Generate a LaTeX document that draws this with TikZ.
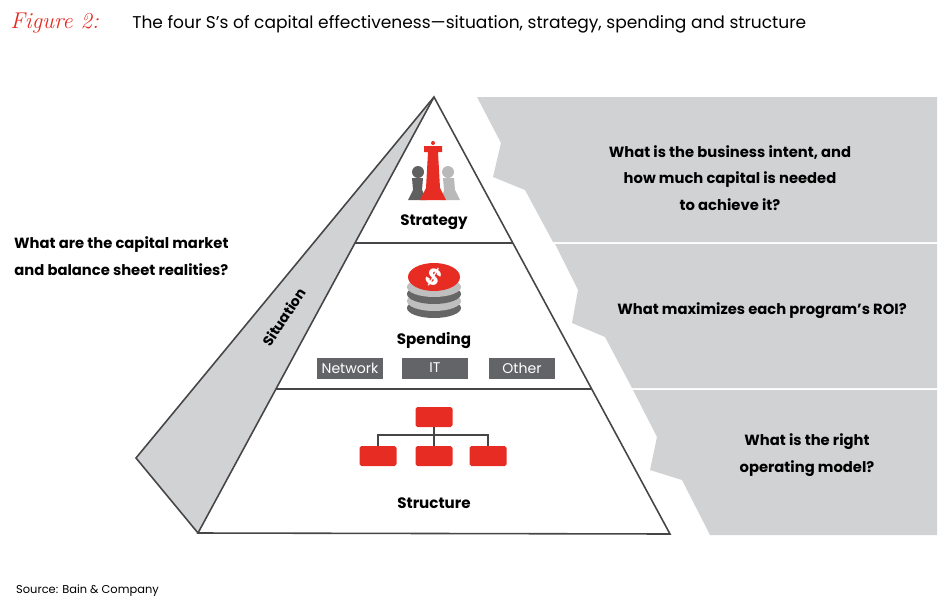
\documentclass[tikz,border=0pt]{standalone}
\usepackage{fontspec}
\setmainfont{Poppins}
\newfontfamily\figfont{Latin Modern Roman}
\usepackage{xcolor}
\usetikzlibrary{positioning}
\definecolor{bainred}{RGB}{230,44,35}
\definecolor{bandgray}{RGB}{209,210,212}
\definecolor{tabgray}{RGB}{99,100,103}
\definecolor{edgegray}{RGB}{70,70,72}
\tikzset{
    question/.style={align=center, font=\bfseries\fontsize{8.4}{15}\selectfont},
    layer/.style={font=\bfseries\fontsize{8.6}{10}\selectfont},
    tab/.style={rectangle, fill=tabgray, text=white, minimum width=1.32cm, minimum height=0.42cm, inner sep=0pt, font=\fontsize{8}{9}\selectfont},
    orgbox/.style={rectangle, rounded corners=1pt, fill=bainred, minimum width=0.74cm, minimum height=0.4cm, inner sep=0pt},
    band/.style={fill=bandgray}
}
\begin{document}
\begin{tikzpicture}[x=0.02cm, y=-0.02cm,
        % pyramid outline
        edge/.style={draw=edgegray, line width=0.9pt},
        wire/.style={draw=edgegray, line width=0.6pt}
    ]
    \useasboundingbox (0,0) rectangle (950,602);

    % --- title ---
    \node[anchor=base west, text=bainred, font=\figfont\itshape\fontsize{13}{14}\selectfont, inner sep=0pt] (fig) at (10,28) {Figure 2:};
    \node[anchor=base west, font=\fontsize{9.7}{11}\selectfont, inner sep=0pt] (title) at (132,28) {The four S’s of capital effectiveness—situation, strategy, spending and structure};

    % --- right bands ---
    \fill[band] (477,97) -- (937,97) -- (937,242) -- (553,242) -- (525,190) -- (493,177) -- (501,143) -- cycle;
    \fill[band] (555,244) -- (937,244) -- (937,388) -- (632,388) -- (605,337) -- (572,323) -- (578,290) -- cycle;
    \fill[band] (633,390) -- (937,390) -- (937,535) -- (710,535) -- (682,480) -- (650,470) -- (657,437) -- cycle;

    % --- pyramid ---
    \coordinate (apex) at (434,97);
    \coordinate (backL) at (136,458);
    \coordinate (baseL) at (198,533);
    \coordinate (baseR) at (670,534);
    \fill[bandgray] (apex) -- (backL) -- (baseL) -- cycle;
    \draw[edge] (apex) -- (backL) -- (baseL);
    \draw[edge] (apex) -- (baseL) -- (baseR) -- cycle;
    \draw[edge] (355,243) -- (513,243);
    \draw[edge] (276,389) -- (592,389);

    % --- strategy: chess pieces ---
    \fill[gray!75!black] (418,172) circle (6) (412,178) -- (423,178) -- (422,190) -- (427,200) -- (408,200) -- (413,190) -- cycle;
    \fill[gray!55] (448,172) circle (6) (443,178) -- (454,178) -- (455,190) -- (460,200) -- (441,200) -- (444,190) -- cycle;
    \fill[bainred] (424,146) rectangle (442,152) (428,152) -- (438,152) -- (440,188) -- (446,200) -- (420,200) -- (426,188) -- cycle;
    \fill[bainred] (433,143) circle (2);
    \node[layer] (strategy) at (434,222) {Strategy};

    % --- spending: coin stack ---
    \foreach \yy/\cc in {308/gray!80!black, 301/gray!50, 294/gray!80!black, 287/gray!50}
        \fill[\cc] (434,\yy) ellipse (27 and 10);
    \fill[bainred] (434,277) ellipse (26 and 14);
    \node[text=white, font=\bfseries\fontsize{13}{13}\selectfont, rotate=-30] (dollar) at (434,277) {\$};
    \node[layer] (spending) at (434,341) {Spending};
    \node[tab] (network) at (350,368) {Network};
    \node[tab] (it) at (435,368) {IT};
    \node[tab] (other) at (522,368) {Other};

    % --- structure: org chart ---
    \node[orgbox] (head) at (434,417) {};
    \node[orgbox] (unitA) at (378,456) {};
    \node[orgbox] (unitB) at (434,456) {};
    \node[orgbox] (unitC) at (488,456) {};
    \draw[wire] (head) -- (unitB);
    \draw[wire] (unitA.north) |- (434,435) -| (unitC.north);
    \node[layer] (structure) at (434,503) {Structure};

    % --- situation ---
    \node[layer, rotate=56, font=\bfseries\fontsize{8}{9}\selectfont, inner sep=1pt] (situation) at (284,317) {Situation};

    % --- questions ---
    \node[question, anchor=west] (qsit) at (8,256) {What are the capital market\\and balance sheet realities?};
    \node[question] (qstrat) at (730,178) {What is the business intent, and\\how much capital is needed\\to achieve it?};
    \node[question] (qspend) at (762,311) {What maximizes each program’s ROI?};
    \node[question] (qstruct) at (807,455) {What is the right\\operating model?};

    % --- source ---
    \node[anchor=base west, font=\fontsize{6.5}{8}\selectfont] (source) at (10,593) {Source: Bain \& Company};
\end{tikzpicture}
\end{document}
